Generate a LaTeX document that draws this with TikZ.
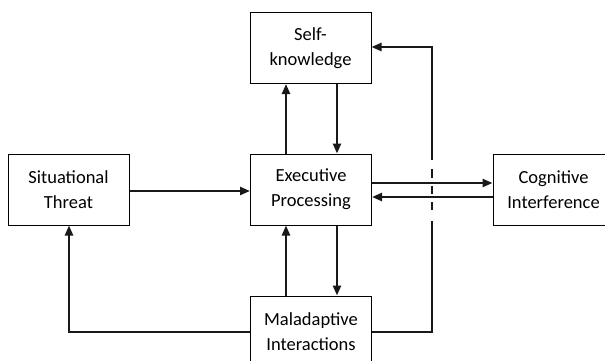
\documentclass[tikz,border=0pt]{standalone}
\usepackage{fontspec}
\setmainfont{Carlito}
\usetikzlibrary{arrows.meta}
\begin{document}
\begin{tikzpicture}[x=1pt,y=-1pt,
  box/.style={draw=black,line width=1pt,minimum width=121pt,minimum height=71pt,inner sep=0pt,align=center,
    font=\fontsize{18.5pt}{25pt}\selectfont},
  conn/.style={line width=2.4pt,draw=black!90},
  arr/.style={conn,-{Triangle[length=10pt,width=8pt]}}]
\useasboundingbox (0,0) rectangle (605,360);
\node[box] (self) at (310.5,48) {Self-\\knowledge};
\node[box] (sit) at (68.5,189.5) {Situational\\Threat};
\node[box] (exec) at (311,189.5) {Executive\\Processing};
\node[box] (cog) at (553.5,190) {Cognitive\\Interference};
\node[box] (mal) at (311,331.5) {Maladaptive\\Interactions};
\coordinate (xa) at (286,0);
\coordinate (xb) at (337,0);
\coordinate (ya) at (0,183);
\coordinate (yb) at (0,197);
\coordinate (yc) at (0,191);
\coordinate (c1) at (432,332);
\coordinate (c2) at (432,221);
\coordinate (c3) at (432,169);
\coordinate (c4) at (432,160);
\coordinate (c5) at (432,47);
\coordinate (c6) at (69,332);
\draw[arr] (sit.east |- yc) -- (exec.west |- yc);
\draw[arr] (exec.north -| xa) -- (self.south -| xa);
\draw[arr] (self.south -| xb) -- (exec.north -| xb);
\draw[arr] (exec.east |- ya) -- (cog.west |- ya);
\draw[arr] (cog.west |- yb) -- (exec.east |- yb);
\draw[arr] (mal.north -| xa) -- (exec.south -| xa);
\draw[arr] (exec.south -| xb) -- (mal.north -| xb);
\draw[arr] (mal.west |- c6) -- (c6) -- (sit.south -| c6);
\draw[conn] (mal.east |- c1) -- (c1) -- (c2);
\draw[conn,line width=2.2pt,dash pattern=on 8.5pt off 8pt] (c3) -- ++(0,41);
\draw[arr] (c4) -- (c5) -- (self.east |- c5);
\end{tikzpicture}
\end{document}
